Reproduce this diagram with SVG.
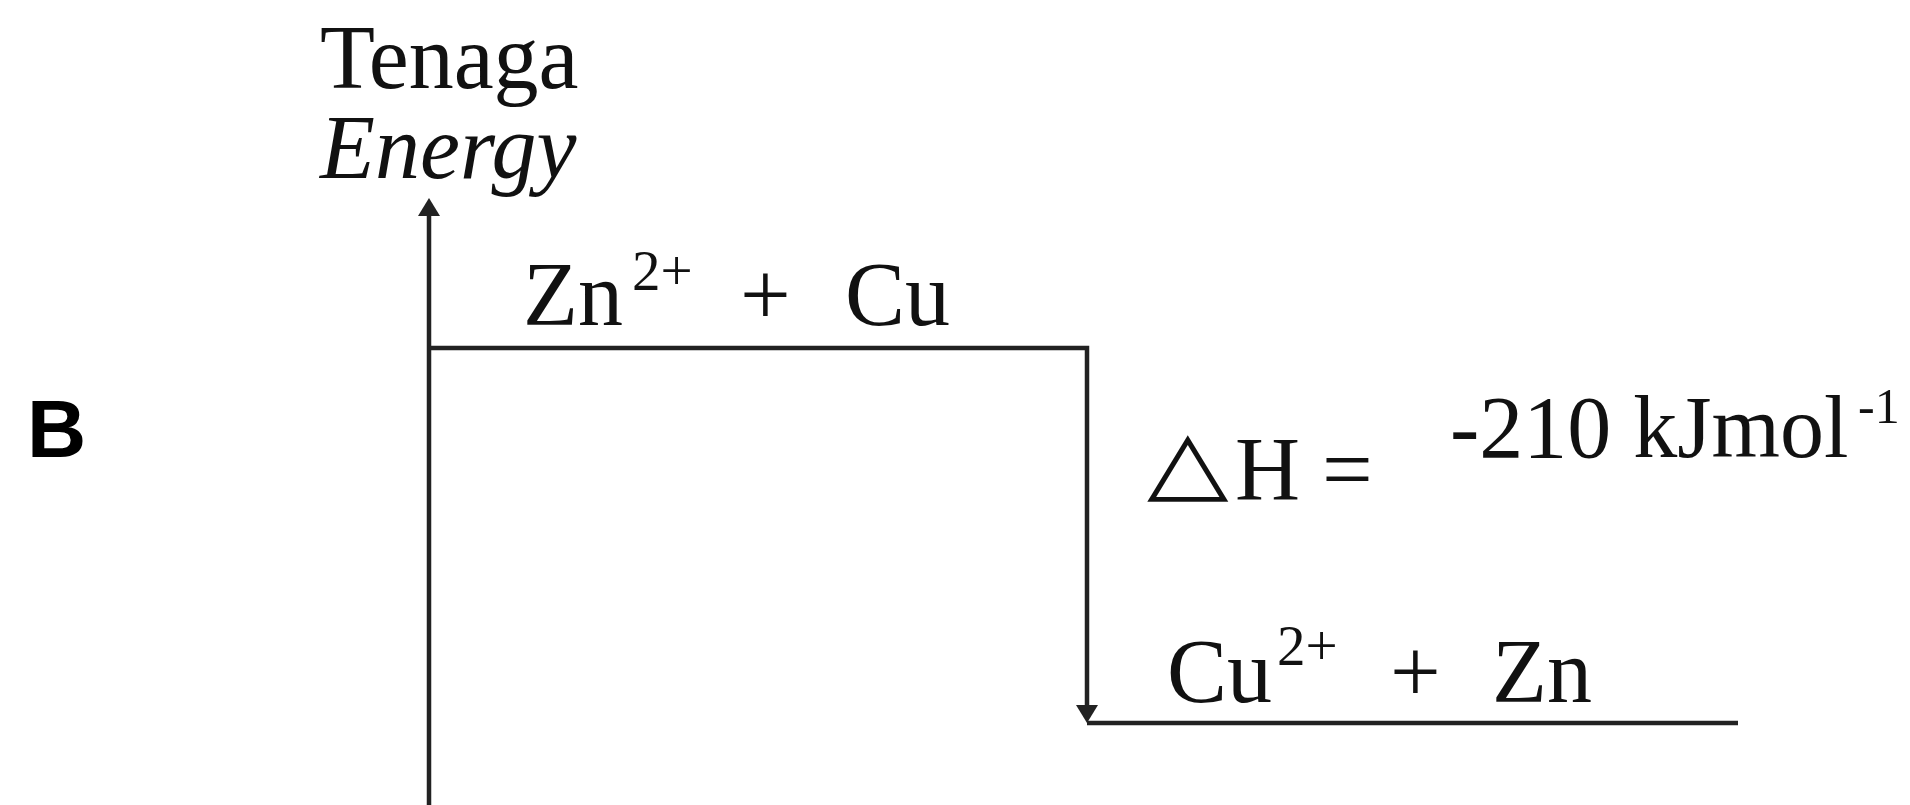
<svg xmlns="http://www.w3.org/2000/svg" width="1910" height="805" viewBox="0 0 1910 805">
  <style>
    .serif { font-family: "Liberation Serif", "Times New Roman", serif; fill: #111; }
    .line { fill: none; stroke: #222; stroke-width: 4.5; }
  </style>
  <defs>
    <marker id="arrow" markerUnits="userSpaceOnUse" viewBox="0 0 18 22" refX="0" refY="11" markerWidth="18" markerHeight="22" orient="auto">
      <path d="M0,0 L18,11 L0,22 z" fill="#222"/>
    </marker>
  </defs>
  <rect width="1910" height="805" fill="#ffffff"/>

  <g id="label-B">
    <text x="27" y="457" font-family="'Liberation Sans', Arial, sans-serif" font-weight="bold" font-size="82" fill="#000">B</text>
  </g>

  <g id="axis-label">
    <text class="serif" x="320" y="88" font-size="90">Tenaga</text>
    <text class="serif" x="320" y="178" font-size="90" font-style="italic">Energy</text>
  </g>

  <g id="reactants">
    <text class="serif" y="325" font-size="90"><tspan x="523">Zn</tspan><tspan x="632" y="290" font-size="57">2+</tspan><tspan x="740" y="325">+</tspan><tspan x="845" y="325">Cu</tspan></text>
  </g>

  <g id="products">
    <text class="serif" y="702" font-size="90"><tspan x="1167">Cu</tspan><tspan x="1277" y="665" font-size="57">2+</tspan><tspan x="1390" y="702">+</tspan><tspan x="1492" y="702">Zn</tspan></text>
  </g>

  <g id="enthalpy">
    <text transform="translate(1147,491) scale(1.22,1)" x="0" y="0" font-family="'DejaVu Sans', sans-serif" font-size="87" fill="#111">△</text>
    <text class="serif" y="500" font-size="90"><tspan x="1235">H</tspan><tspan x="1322">=</tspan></text>
    <text class="serif" y="457" font-size="88"><tspan x="1450">-210 kJmol</tspan><tspan x="1858" y="423" font-size="50">-1</tspan></text>
  </g>

  <g id="connectors">
    <path class="line" d="M429,805 V216" marker-end="url(#arrow)"/>
    <path class="line" d="M429,348 H1087 V705" marker-end="url(#arrow)"/>
    <path class="line" d="M1087,723 H1738"/>
  </g>
</svg>
